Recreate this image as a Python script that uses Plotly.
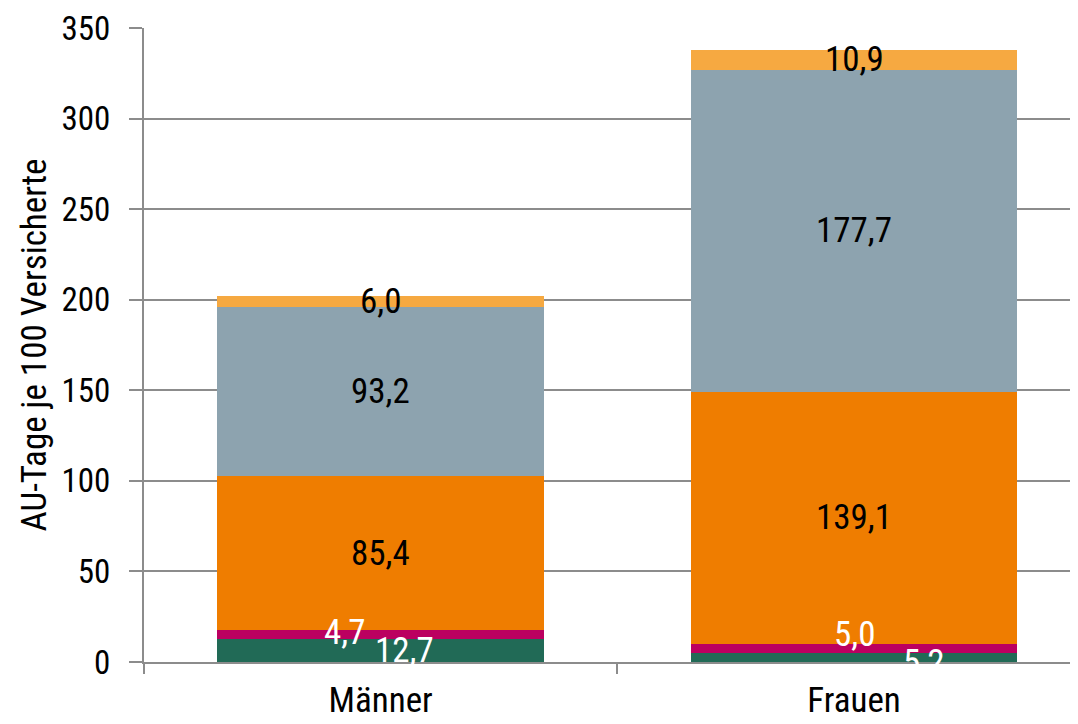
import plotly.graph_objects as go
import numpy as np

categories = ["Männer", "Frauen"]
series_names = ["S1", "S2", "S3", "S4", "S5"]
s1 = [12.7, 5.2]
s2 = [4.7, 5.0]
s3 = [85.4, 139.1]
s4 = [93.2, 177.7]
s5 = [6.0, 10.9]
y_ticks = [0, 50, 100, 150, 200, 250, 300, 350]

series = [s1, s2, s3, s4, s5]
colors = ["#216a56", "#bb0060", "#ef7d00", "#8da3af", "#f6a941"]
label_colors = ["white", "white", "black", "black", "black"]
# pixel offsets for labels (x, y) per (series, category)
offsets = {
    (0, 0): (24, 0), (0, 1): (69, -5),
    (1, 0): (-36, 2), (1, 1): (0, 14),
}

FONT = "Liberation Sans Narrow, Arial Narrow, Roboto Condensed, Liberation Sans, sans-serif"
FS = 35

fig = go.Figure()
for name, vals, c in zip(series_names, series, colors):
    fig.add_trace(go.Bar(x=categories, y=vals, name=name, marker=dict(color=c, line=dict(width=0)),
                         width=0.69))

cum = np.zeros(len(categories))
annotations = []
for si, vals in enumerate(series):
    v = np.array(vals)
    mids = cum + v / 2
    for ci, cat in enumerate(categories):
        dx, dy = offsets.get((si, ci), (0, 0))
        annotations.append(dict(
            x=cat, y=mids[ci], xref="x", yref="y", text=f"{vals[ci]:.1f}".replace(".", ","),
            showarrow=False, xshift=dx, yshift=dy,
            font=dict(family=FONT, size=FS, color=label_colors[si])))
    cum = cum + v

fig.update_layout(
    barmode="stack",
    width=1078, height=724,
    margin=dict(l=136, r=0, t=20, b=70),
    paper_bgcolor="white", plot_bgcolor="white",
    showlegend=False,
    font=dict(family=FONT, size=FS, color="black"),
    annotations=annotations,
    xaxis=dict(range=[-0.5, 1.49], showline=True, linecolor="#8c8c8c", linewidth=2,
               ticks="outside", tickson="boundaries", ticklen=10, tickwidth=2, tickcolor="#8c8c8c",
               showgrid=False, tickfont=dict(size=FS), ticklabelstandoff=6, automargin=False),
    yaxis=dict(range=[0, 350], tickvals=y_ticks, showline=True, linecolor="#8c8c8c", linewidth=2,
               ticks="outside", ticklen=13, tickwidth=2, tickcolor="#8c8c8c",
               showgrid=True, gridcolor="#8c8c8c", gridwidth=2, zeroline=False,
               tickfont=dict(size=33), ticklabelstandoff=12, ticklabeloverflow="allow",
               automargin=False,
               title=dict(text="AU-Tage je 100 Versicherte", font=dict(size=FS), standoff=4)),
)
fig.write_html("out.html")
